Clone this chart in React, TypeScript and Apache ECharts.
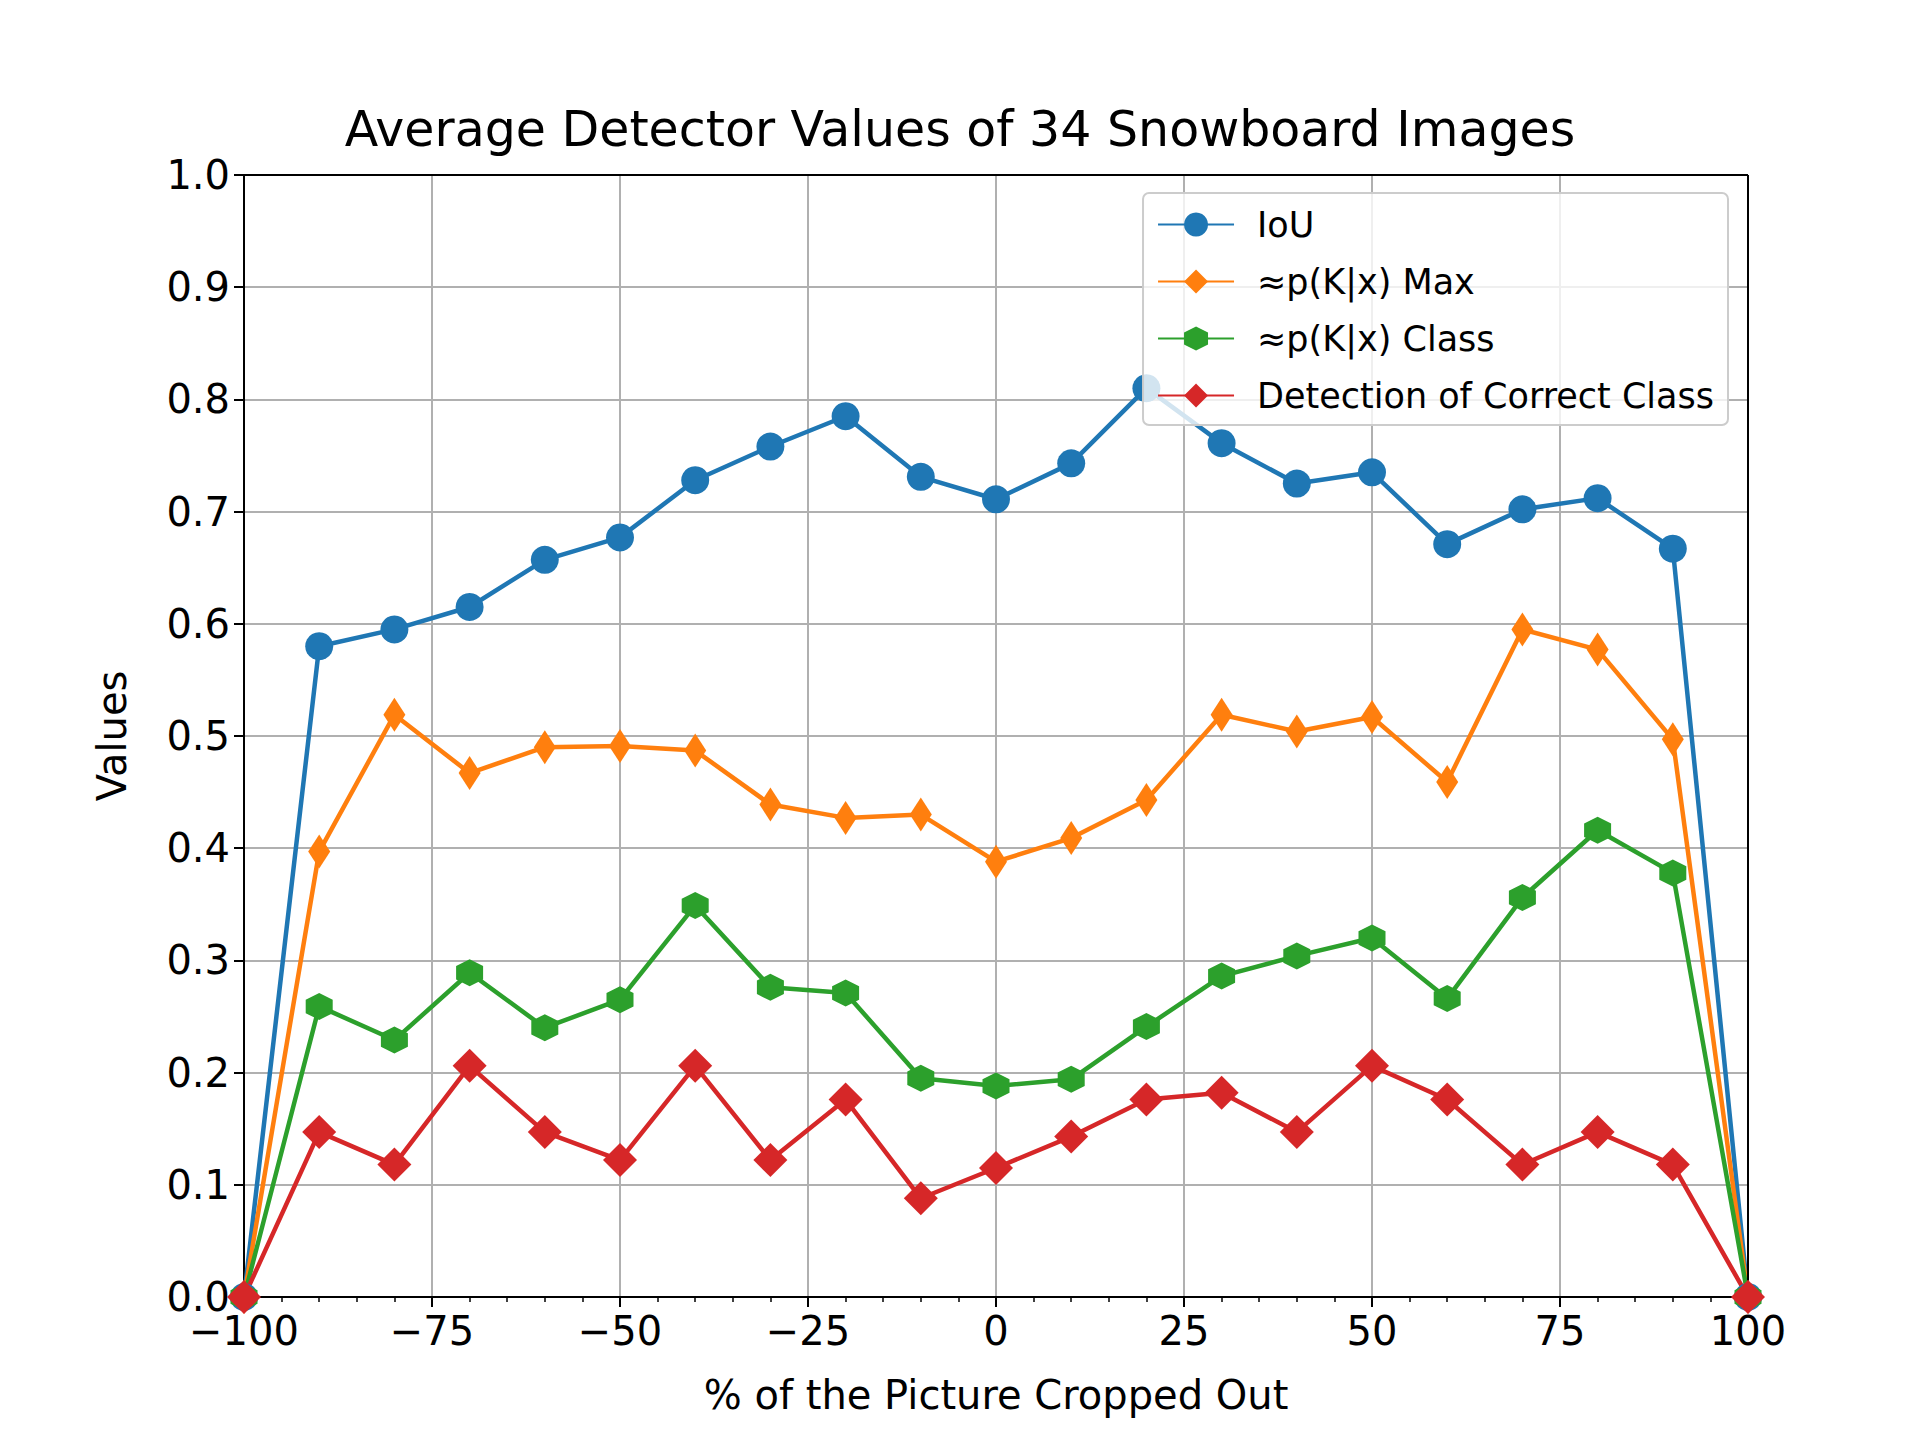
import React from 'react';
import * as echarts from 'echarts';

const xs = [-100, -90, -80, -70, -60, -50, -40, -30, -20, -10, 0, 10, 20, 30, 40, 50, 60, 70, 80, 90, 100];
const iou = [0, 0.58, 0.595, 0.615, 0.657, 0.677, 0.728, 0.758, 0.785, 0.731, 0.711, 0.743, 0.81, 0.761, 0.725, 0.735, 0.671, 0.702, 0.712, 0.667, 0];
const pMax = [0, 0.397, 0.519, 0.467, 0.49, 0.491, 0.487, 0.439, 0.427, 0.43, 0.388, 0.409, 0.443, 0.519, 0.504, 0.517, 0.459, 0.595, 0.577, 0.497, 0];
const pClass = [0, 0.259, 0.229, 0.289, 0.24, 0.265, 0.349, 0.276, 0.271, 0.195, 0.188, 0.194, 0.241, 0.286, 0.304, 0.32, 0.266, 0.356, 0.416, 0.378, 0];
const correct = [0, 0.147, 0.118, 0.206, 0.147, 0.122, 0.206, 0.122, 0.176, 0.088, 0.115, 0.143, 0.176, 0.182, 0.147, 0.206, 0.176, 0.118, 0.147, 0.118, 0];

const font = 'DejaVu Sans';
const thinDiamond = 'path://M0,-1 L0.6,0 L0,1 L-0.6,0Z';
const hexagon = 'path://M0,-1 L0.866,-0.5 L0.866,0.5 L0,1 L-0.866,0.5 L-0.866,-0.5Z';

export default function App() {
  const chartRef = React.useRef<HTMLDivElement>(null);

  React.useEffect(() => {
    if (!chartRef.current) return;
    document.body.style.margin = '0';
    const chart = echarts.init(chartRef.current, undefined, { renderer: 'svg' });

    const mk = (name: string, data: number[], color: string, symbol: string, size: any) => ({
      name,
      type: 'line',
      data: xs.map((x, i) => [x, data[i]]),
      symbol,
      symbolSize: size,
      lineStyle: { width: 4.5, color },
      itemStyle: { color },
      emphasis: { disabled: true },
    });

    chart.setOption({
      animation: false,
      backgroundColor: '#fff',
      textStyle: { fontFamily: font },
      title: {
        text: 'Average Detector Values of 34 Snowboard Images',
        left: 'center',
        top: 100,
        textStyle: { fontFamily: font, fontSize: 49, fontWeight: 'normal', color: '#000' },
      },
      grid: { left: 244, right: 172, top: 175, bottom: 143 },
      legend: {
        right: 192,
        top: 193,
        orient: 'vertical',
        backgroundColor: 'rgba(255,255,255,0.8)',
        borderColor: '#ccc',
        borderWidth: 2,
        borderRadius: 6,
        padding: [14, 14, 12, 14],
        itemGap: 22,
        itemWidth: 76,
        itemHeight: 30,
        textStyle: { fontFamily: font, fontSize: 35, color: '#000', padding: [0, 0, 0, 18] },
        data: ['IoU', '≈p(K|x) Max', '≈p(K|x) Class', 'Detection of Correct Class'],
      },
      xAxis: {
        type: 'value',
        min: -100,
        max: 100,
        interval: 25,
        name: '% of the Picture Cropped Out',
        nameLocation: 'middle',
        nameGap: 78,
        nameTextStyle: { fontSize: 40, color: '#000', fontFamily: font },
        axisLine: { onZero: false, lineStyle: { color: '#000', width: 2 } },
        axisTick: { length: 10, lineStyle: { color: '#000', width: 2 } },
        minorTick: { show: true, splitNumber: 5, length: 5, lineStyle: { color: '#000', width: 1.5 } },
        axisLabel: { fontSize: 40, color: '#000', margin: 14, formatter: (v: number) => String(v).replace('-', '−') },
        splitLine: { show: true, lineStyle: { color: '#b0b0b0', width: 2 } },
      },
      yAxis: {
        type: 'value',
        min: 0,
        max: 1,
        interval: 0.1,
        name: 'Values',
        nameLocation: 'middle',
        nameGap: 112,
        nameTextStyle: { fontSize: 40, color: '#000', fontFamily: font },
        axisLine: { show: true, onZero: false, lineStyle: { color: '#000', width: 2 } },
        axisTick: { show: true, length: 10, lineStyle: { color: '#000', width: 2 } },
        axisLabel: { fontSize: 40, color: '#000', margin: 14, formatter: (v: number) => v.toFixed(1) },
        splitLine: { show: true, lineStyle: { color: '#b0b0b0', width: 2 } },
      },
      series: [
        mk('IoU', iou, '#1f77b4', 'circle', 28),
        mk('≈p(K|x) Max', pMax, '#ff7f0e', thinDiamond, [22, 34]),
        mk('≈p(K|x) Class', pClass, '#2ca02c', hexagon, 27),
        mk('Detection of Correct Class', correct, '#d62728', 'diamond', 34),
        {
          type: 'line', silent: true, data: [[100, 1], [100, 0]], symbol: 'none',
          lineStyle: { color: '#000', width: 2 },
        },
        {
          type: 'line', silent: true, data: [[-100, 1], [100, 1]], symbol: 'none',
          lineStyle: { color: '#000', width: 2 },
        },
      ],
    });

    return () => chart.dispose();
  }, []);

  return <div ref={chartRef} style={{ width: 1920, height: 1440 }} />;
}
